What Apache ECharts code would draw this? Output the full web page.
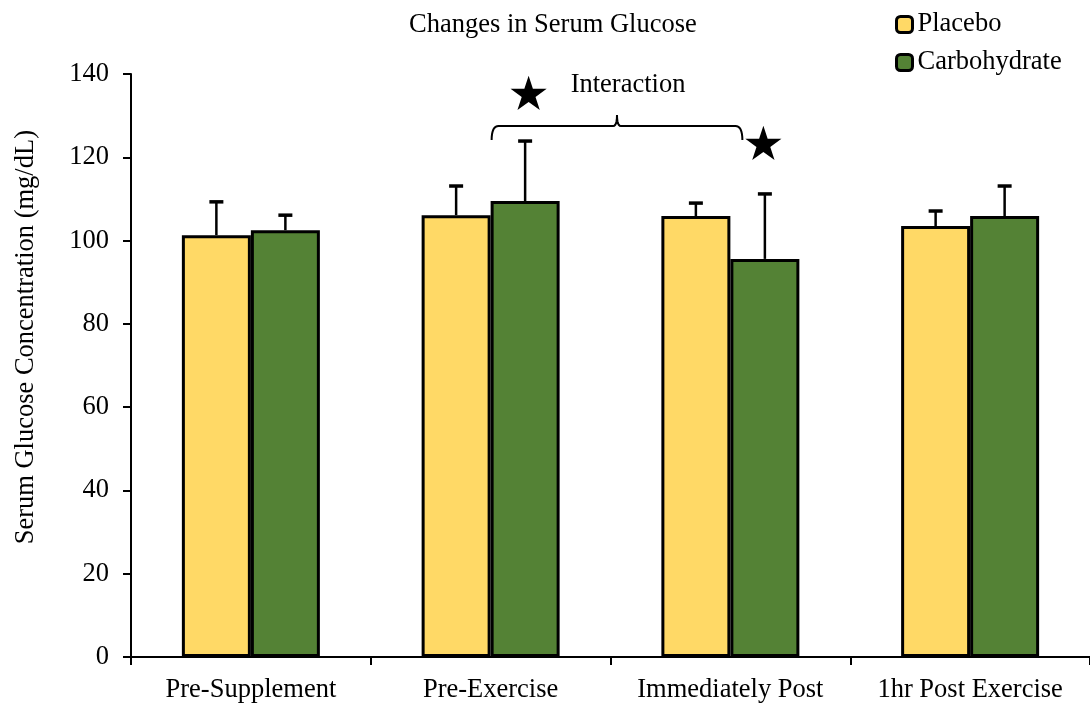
<!DOCTYPE html>
<html>
<head>
<meta charset="utf-8">
<script src="https://cdn.jsdelivr.net/npm/echarts@6/dist/echarts.min.js"></script>
<style>html,body{margin:0;padding:0;background:#fff}#c{width:1090px;height:704px}</style>
</head>
<body>
<div id="c"></div>
<script>
const categories = ['Pre-Supplement', 'Pre-Exercise', 'Immediately Post', '1hr Post Exercise'];
const placebo = [101.3, 106.1, 105.9, 103.5];
const placeboErr = [8.0, 7.0, 3.1, 3.6];
const carbohydrate = [102.5, 109.5, 95.6, 105.9];
const carbohydrateErr = [3.6, 14.4, 15.6, 7.2];
const yTicks = [0, 20, 40, 60, 80, 100, 120, 140];

const FONT = 'Liberation Serif';
const FS = 26.5;
const BAR_W = 69;
const chart = echarts.init(document.getElementById('c'), null, {renderer: 'canvas'});

function errSeries(name, vals, errs, sign) {
  return {
    type: 'custom',
    name: name + ' err',
    silent: true,
    z: 5,
    data: vals.map((v, i) => [i, v, v + errs[i]]),
    renderItem: function (params, api) {
      const base = api.coord([api.value(0), api.value(1)]);
      const top = api.coord([api.value(0), api.value(2)]);
      const x = base[0] + sign * BAR_W / 2;
      const capW = 7;
      return {
        type: 'group',
        children: [
          {type: 'line', shape: {x1: x, y1: base[1], x2: x, y2: top[1]}, style: {stroke: '#000', lineWidth: 2.5}},
          {type: 'line', shape: {x1: x - capW, y1: top[1], x2: x + capW, y2: top[1]}, style: {stroke: '#000', lineWidth: 3.5}}
        ]
      };
    }
  };
}

const option = {
  animation: false,
  backgroundColor: '#fff',
  textStyle: {fontFamily: FONT},
  title: {
    text: 'Changes in Serum Glucose',
    left: 404, top: 7,
    textStyle: {fontFamily: FONT, fontSize: FS, fontWeight: 'normal', color: '#000'}
  },
  legend: {
    orient: 'vertical',
    left: 890, top: 6,
    itemWidth: 16, itemHeight: 16, itemGap: 11,
    data: ['Placebo', 'Carbohydrate'],
    itemStyle: {borderColor: '#000', borderWidth: 3},
    textStyle: {fontFamily: FONT, fontSize: FS, color: '#000', padding: [0, 0, 0, 0]}
  },
  grid: {left: 131, width: 964, top: 74, bottom: 47},
  xAxis: {
    type: 'category',
    data: categories,
    axisLine: {lineStyle: {color: '#000', width: 2}},
    axisTick: {show: true, interval: 0, length: 8, lineStyle: {color: '#000', width: 2}},
    axisLabel: {interval: 0, hideOverlap: false, fontFamily: FONT, fontSize: FS, color: '#000', margin: 20}
  },
  yAxis: {
    type: 'value',
    min: 0, max: 140, interval: 20,
    axisLine: {show: true, lineStyle: {color: '#000', width: 2}},
    axisTick: {show: true, length: 8, lineStyle: {color: '#000', width: 2}},
    splitLine: {show: false},
    axisLabel: {fontFamily: FONT, fontSize: FS, color: '#000', margin: 22,
      formatter: v => yTicks.indexOf(v) >= 0 ? String(v) : ''}
  },
  series: [
    {
      name: 'Placebo', type: 'bar', data: placebo, barWidth: BAR_W, barGap: '0%',
      itemStyle: {color: '#FFD966', borderColor: '#000', borderWidth: 3}
    },
    {
      name: 'Carbohydrate', type: 'bar', data: carbohydrate, barWidth: BAR_W, barGap: '0%',
      itemStyle: {color: '#548235', borderColor: '#000', borderWidth: 3}
    },
    errSeries('Placebo', placebo, placeboErr, -1),
    errSeries('Carbohydrate', carbohydrate, carbohydrateErr, 1)
  ]
};
chart.setOption(option);

function starPath(cx, cy, R) {
  const r = R * 0.382;
  const pts = [];
  for (let k = 0; k < 10; k++) {
    const a = -Math.PI / 2 + k * Math.PI / 5;
    const rr = k % 2 === 0 ? R : r;
    pts.push([cx + rr * Math.cos(a), cy + rr * Math.sin(a)]);
  }
  return pts;
}
function quad(p0, p1, p2, n) {
  const out = [];
  for (let i = 0; i <= n; i++) {
    const t = i / n;
    out.push([
      (1 - t) * (1 - t) * p0[0] + 2 * (1 - t) * t * p1[0] + t * t * p2[0],
      (1 - t) * (1 - t) * p0[1] + 2 * (1 - t) * t * p1[1] + t * t * p2[1]
    ]);
  }
  return out;
}

// annotations positioned from data coordinates
const toPx = (c, v) => chart.convertToPixel({xAxisIndex: 0, yAxisIndex: 0}, [c, v]);
const pPreEx = toPx(1, 127.5);
const pImm = toPx(2, 127.5);
const yB = pPreEx[1];
const xL = pPreEx[0] + 1;
const xR = pImm[0] + 12;
const xM = (xL + xR) / 2;
let pts = [];
pts = pts.concat(quad([xL, yB + 14], [xL, yB], [xL + 7, yB], 8));
pts = pts.concat(quad([xM - 4, yB], [xM, yB], [xM, yB - 11], 6));
pts = pts.concat(quad([xM, yB - 11], [xM, yB], [xM + 4, yB], 6));
pts = pts.concat(quad([xR - 7, yB], [xR, yB], [xR, yB + 14], 8));
const star1 = toPx(1, 135.5);
const star2 = toPx(2, 123.5);
const yMid = toPx(0, 76.8);

chart.setOption({
  graphic: [
    {type: 'polyline', shape: {points: pts}, style: {fill: null, stroke: '#000', lineWidth: 2}},
    {type: 'polygon', shape: {points: starPath(star1[0] + 38, star1[1] + 2, 19)}, style: {fill: '#000'}},
    {type: 'polygon', shape: {points: starPath(star2[0] + 33, star2[1] + 2, 19)}, style: {fill: '#000'}},
    {type: 'text', x: star1[0] + 80, y: star1[1] - 8,
      style: {text: 'Interaction', font: '26.5px "Liberation Serif"', fill: '#000', textVerticalAlign: 'middle'}},
    {type: 'text', x: 26, y: yMid[1], rotation: Math.PI / 2,
      style: {text: 'Serum Glucose Concentration (mg/dL)', font: '26.5px "Liberation Serif"', fill: '#000',
        textAlign: 'center', textVerticalAlign: 'middle'}}
  ]
});
</script>
</body>
</html>
